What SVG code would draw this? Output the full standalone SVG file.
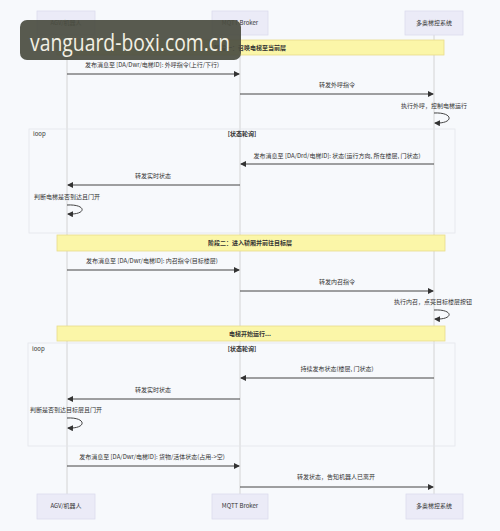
<svg xmlns="http://www.w3.org/2000/svg" width="500" height="531" viewBox="0 0 500 531">
<defs>
<marker id="ah" markerWidth="6" markerHeight="6" refX="5" refY="3" orient="auto" markerUnits="userSpaceOnUse">
<path d="M0,0 L6,3 L0,6 z" fill="#333"/>
</marker>
<style>
text{font-family:"Noto Sans CJK SC","Noto Sans",sans-serif;font-size:6px;fill:#333}
.actor rect{fill:#ebebf7;stroke:#dcdcee;stroke-width:0.8}
.actor text{text-anchor:middle}
.life{stroke:#d4d4d4;stroke-width:1}
.msg{stroke:#444;stroke-width:1;fill:none;marker-end:url(#ah)}
.note rect{fill:#fbf6a8;stroke:#e8dd8a;stroke-width:0.8}
.note text{text-anchor:middle;font-weight:bold}
.loop{fill:none;stroke:#e4e6ec;stroke-width:0.8}
.mid{text-anchor:middle}
.lbl{font-weight:bold}
</style>
</defs>
<rect x="0" y="0" width="500" height="531" fill="#f7f9fc"/>

<g id="lifelines">
<line class="life" x1="67" y1="35" x2="67" y2="494"/>
<line class="life" x1="240" y1="35" x2="240" y2="494"/>
<line class="life" x1="434" y1="35" x2="434" y2="494"/>
</g>

<g id="loops">
<rect class="loop" x="29" y="129" width="426" height="104"/>
<text x="33" y="136">loop</text>
<text class="mid lbl" x="242" y="136">[状态轮询]</text>
<rect class="loop" x="28" y="343" width="427" height="103"/>
<text x="32" y="351">loop</text>
<text class="mid lbl" x="242" y="351">[状态轮询]</text>
</g>

<g id="actor-agv" class="actor">
<rect x="37" y="11" width="58" height="24"/>
<text x="66" y="25">AGV/机器人</text>
<rect x="37" y="494" width="58" height="25"/>
<text x="66" y="508">AGV/机器人</text>
</g>
<g id="actor-mqtt" class="actor">
<rect x="212" y="11" width="56" height="24"/>
<text x="240" y="25">MQTT Broker</text>
<rect x="212" y="494" width="56" height="25"/>
<text x="240" y="508">MQTT Broker</text>
</g>
<g id="actor-ctrl" class="actor">
<rect x="405" y="11" width="58" height="24"/>
<text x="434" y="25">多奥梯控系统</text>
<rect x="406" y="494" width="57" height="25"/>
<text x="434" y="508">多奥梯控系统</text>
</g>

<g id="note1" class="note">
<rect x="57" y="40" width="387" height="15"/>
<text x="250" y="49.5">阶段一：召唤电梯至当前层</text>
</g>
<g id="note2" class="note">
<rect x="57" y="235" width="388" height="16"/>
<text x="250" y="245">阶段二：进入轿厢并前往目标层</text>
</g>
<g id="note3" class="note">
<rect x="57" y="326" width="388" height="15"/>
<text x="250" y="335.5">电梯开始运行...</text>
</g>

<g id="connectors">
<text class="mid" x="152" y="67">发布消息至 [DA/Dwr/电梯ID]: 外呼指令(上行/下行)</text>
<line class="msg" x1="67" y1="74" x2="239" y2="74"/>
<text class="mid" x="337" y="87">转发外呼指令</text>
<line class="msg" x1="240" y1="94" x2="433" y2="94"/>
<text class="mid" x="434" y="108">执行外呼，控制电梯运行</text>
<path class="msg" d="M434,113 C454,112 454,124 435,123"/>

<text class="mid" x="337" y="158">发布消息至 [DA/Drd/电梯ID]: 状态(运行方向, 所在楼层, 门状态)</text>
<line class="msg" x1="434" y1="164" x2="241" y2="164"/>
<text class="mid" x="153" y="178">转发实时状态</text>
<line class="msg" x1="240" y1="185" x2="68" y2="185"/>
<text x="34" y="199">判断电梯是否到达且门开</text>
<path class="msg" d="M67,205 C87,204 87,215 68,214"/>

<text class="mid" x="152" y="263">发布消息至 [DA/Dwr/电梯ID]: 内召指令(目标楼层)</text>
<line class="msg" x1="67" y1="270" x2="239" y2="270"/>
<text class="mid" x="337" y="284">转发内召指令</text>
<line class="msg" x1="240" y1="291" x2="433" y2="291"/>
<text class="mid" x="433" y="304">执行内召，点亮目标楼层按钮</text>
<path class="msg" d="M434,310 C454,309 454,320 435,319"/>

<text class="mid" x="337" y="371">持续发布状态(楼层, 门状态)</text>
<line class="msg" x1="434" y1="378" x2="241" y2="378"/>
<text class="mid" x="153" y="392">转发实时状态</text>
<line class="msg" x1="240" y1="399" x2="68" y2="399"/>
<text x="30" y="412">判断是否到达目标层且门开</text>
<path class="msg" d="M67,418 C87,417 87,429 68,428"/>

<text class="mid" x="152" y="459">发布消息至 [DA/Dwr/电梯ID]: 货物/活体状态(占用-&gt;空)</text>
<line class="msg" x1="67" y1="466" x2="239" y2="466"/>
<text class="mid" x="336" y="479">转发状态，告知机器人已离开</text>
<line class="msg" x1="240" y1="487" x2="433" y2="487"/>
</g>

<g id="watermark">
<rect x="20" y="20" width="221" height="40" rx="7" fill="#4b4d42" fill-opacity="0.93"/>
<text x="30" y="51" style="font-family:'Open Sans','Noto Sans',sans-serif;font-size:23px;fill:#f2f0e4" textLength="200" lengthAdjust="spacingAndGlyphs">vanguard-boxi.com.cn</text>
</g>
</svg>
